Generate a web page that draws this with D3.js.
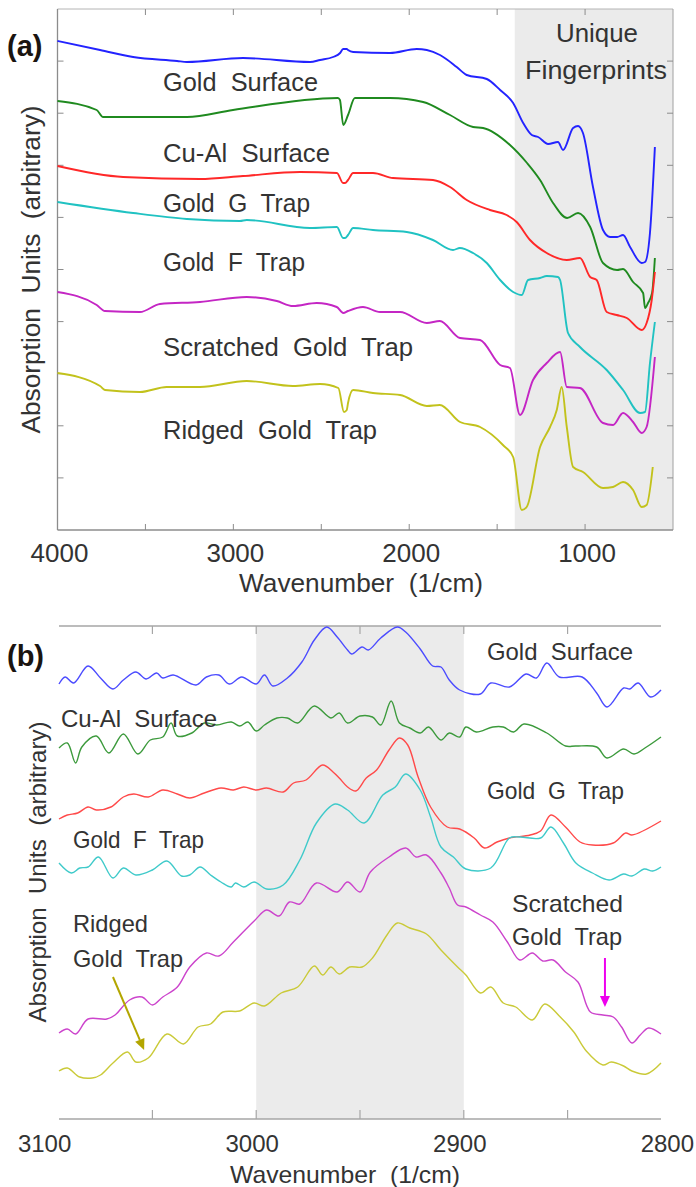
<!DOCTYPE html>
<html><head><meta charset="utf-8">
<script src="https://cdn.jsdelivr.net/npm/d3@7"></script>
<style>
body{margin:0;background:#fff}
svg{display:block}
text{font-family:"Liberation Sans",Arial,Helvetica,sans-serif;fill:#333;white-space:pre}
</style>
</head><body>
<svg id="chart" width="696" height="1187"></svg>
<script>
// ---------- Panel (a) data: [wavenumber (1/cm), absorption (arbitrary, offset)] ----------
const aTickLabels = [4000, 3000, 2000, 1000];
const aTickMarks = [3500, 3000, 2500, 2000, 1500, 1000];
const aShade = [1400, 500];
const aSeriesNames = ["Gold Surface", "Cu-Al Surface", "Gold G Trap", "Gold F Trap", "Scratched Gold Trap", "Ridged Gold Trap"];
const aGoldSurface = [[4000,489],[3758,480],[3570,473],[3320,469],[3264,468],[2945,472],[2564,468],[2507,470],[2433,473],[2393,477],[2376,481],[2355,481],[2348,480],[2319,478],[2109,477],[1957,481],[1900,480],[1825,475],[1730,463],[1673,455],[1559,451],[1483,440],[1409,427],[1352,407],[1303,395],[1267,393],[1210,386],[1154,388],[1125,380],[1068,402],[1040,404],[1012,397],[955,343],[898,300],[858,293],[818,293],[784,295],[744,283],[678,267],[659,268],[631,297],[603,383]];
const aCuAl = [[4000,429],[3777,420],[3741,413],[3570,413],[3264,413],[3002,420],[2405,432],[2394,430],[2375,405],[2348,415],[2309,432],[2109,432],[1921,428],[1768,415],[1637,403],[1580,402],[1427,385],[1330,367],[1256,350],[1182,327],[1102,312],[1040,317],[971,303],[898,267],[818,260],[784,261],[727,248],[670,237],[659,222],[642,227],[619,237],[603,272]];
const aGoldG = [[4000,364],[3627,353],[3190,351],[2945,354],[2621,358],[2411,357],[2376,347],[2365,347],[2348,350],[2319,357],[2206,357],[2092,352],[1865,350],[1768,343],[1673,330],[1541,320],[1446,315],[1389,308],[1313,290],[1218,277],[1104,270],[1029,272],[971,253],[934,250],[877,218],[820,215],[763,212],[678,200],[650,207],[621,230],[603,258]];
const aGoldF = [[4000,328],[3570,317],[3264,311],[2963,309],[2924,310],[2564,302],[2411,303],[2376,292],[2365,292],[2348,295],[2319,302],[2206,300],[2014,298],[1865,290],[1751,280],[1712,282],[1637,277],[1559,267],[1483,250],[1409,238],[1360,235],[1324,250],[1256,252],[1218,254],[1154,253],[1142,250],[1097,197],[1029,183],[877,160],[784,140],[687,117],[659,118],[631,167],[603,208]];
const aScratched = [[4000,238],[3777,225],[3730,219],[3531,218],[3417,226],[3190,228],[2924,233],[2753,229],[2661,224],[2526,227],[2412,223],[2375,217],[2348,219],[2263,223],[2166,218],[2052,218],[1900,207],[1826,209],[1711,192],[1597,190],[1483,165],[1427,162],[1370,115],[1296,150],[1218,167],[1142,178],[1104,143],[1029,142],[898,107],[841,105],[784,117],[727,108],[678,97],[650,103],[603,173]];
const aRidged = [[4000,157],[3758,144],[3730,140],[3531,138],[3379,143],[3190,143],[2924,149],[2661,144],[2507,146],[2403,142],[2371,118],[2355,120],[2348,127],[2319,140],[2206,137],[2052,135],[1900,124],[1826,125],[1711,108],[1597,103],[1467,85],[1409,73],[1360,20],[1332,23],[1256,83],[1199,103],[1161,120],[1133,143],[1104,103],[1068,63],[1012,58],[898,42],[841,43],[784,48],[727,40],[678,23],[650,25],[615,63]];

// ---------- Panel (b) data ----------
const bTickLabels = [3100, 3000, 2900, 2800];
const bTickMarks = [3050, 3000, 2950, 2900, 2850];
const bShade = [3000, 2900];
const bGoldSurface = [[3095,435],[3092,442],[3088,436],[3081,453],[3075,441],[3069,430],[3064,439],[3058,447],[3053,440],[3048,446],[3045,441],[3040,444],[3029,434],[3024,442],[3018,444],[3013,435],[3007,442],[3000,435],[2996,444],[2992,433],[2985,441],[2978,457],[2972,479],[2966,492],[2961,482],[2956,469],[2954,465],[2949,472],[2946,469],[2940,481],[2932,492],[2928,487],[2921,470],[2915,453],[2911,452],[2907,439],[2902,429],[2892,425],[2887,436],[2878,432],[2870,445],[2865,441],[2860,456],[2854,442],[2843,442],[2836,426],[2831,412],[2823,431],[2820,430],[2816,436],[2810,422],[2805,429]];
const bCuAl = [[3095,371],[3091,376],[3087,356],[3084,372],[3077,383],[3071,366],[3064,385],[3057,365],[3051,379],[3045,382],[3041,396],[3038,383],[3031,386],[3025,396],[3019,394],[3012,397],[3008,393],[3004,397],[3000,388],[2996,394],[2990,401],[2985,401],[2980,396],[2972,413],[2964,401],[2960,406],[2956,396],[2950,403],[2944,402],[2940,394],[2935,418],[2931,396],[2926,391],[2921,386],[2917,392],[2911,379],[2907,386],[2902,382],[2899,392],[2894,387],[2886,392],[2881,392],[2876,387],[2871,395],[2860,386],[2851,373],[2846,373],[2836,372],[2831,361],[2823,370],[2818,365],[2812,372],[2805,382]];
const bGoldG = [[3095,300],[3091,304],[3086,306],[3081,312],[3077,309],[3070,312],[3064,322],[3059,325],[3052,322],[3045,329],[3038,325],[3032,321],[3025,326],[3017,331],[3011,329],[3006,332],[3000,329],[2995,331],[2987,327],[2982,336],[2976,339],[2968,354],[2963,347],[2960,341],[2956,332],[2952,328],[2947,341],[2942,349],[2936,369],[2931,381],[2927,374],[2922,342],[2916,312],[2908,292],[2902,290],[2895,281],[2890,271],[2884,277],[2878,281],[2868,284],[2863,288],[2858,304],[2851,292],[2844,277],[2838,274],[2828,276],[2822,286],[2819,284],[2805,298]];
const bGoldF = [[3095,256],[3089,246],[3085,251],[3081,252],[3076,262],[3069,241],[3064,251],[3058,244],[3050,249],[3043,258],[3036,243],[3032,244],[3027,252],[3022,244],[3017,237],[3012,232],[3010,236],[3006,232],[3001,237],[2995,230],[2987,234],[2979,259],[2971,296],[2962,315],[2956,309],[2948,296],[2939,324],[2933,332],[2928,345],[2921,329],[2916,302],[2911,272],[2905,262],[2899,250],[2887,251],[2878,281],[2873,282],[2863,281],[2858,292],[2852,276],[2846,256],[2838,246],[2830,239],[2823,245],[2819,243],[2813,250],[2809,248],[2805,252]];
const bScratched = [[3095,86],[3091,90],[3087,85],[3081,100],[3072,100],[3068,104],[3061,119],[3055,122],[3050,114],[3045,122],[3038,132],[3032,152],[3024,166],[3018,163],[3011,177],[3001,198],[2995,209],[2989,203],[2984,217],[2979,215],[2971,236],[2961,227],[2956,237],[2950,227],[2945,247],[2936,262],[2928,271],[2923,262],[2918,264],[2911,246],[2907,231],[2903,214],[2899,212],[2892,204],[2886,197],[2879,177],[2873,159],[2867,166],[2862,158],[2857,159],[2851,147],[2845,137],[2839,107],[2833,104],[2828,102],[2824,92],[2819,76],[2815,84],[2811,91],[2805,85]];
const bRidged = [[3095,48],[3091,51],[3085,42],[3079,41],[3075,44],[3069,56],[3062,67],[3058,57],[3052,61],[3043,85],[3035,75],[3028,92],[3022,95],[3016,107],[3008,108],[3001,116],[2996,113],[2988,126],[2980,132],[2972,153],[2968,144],[2964,152],[2960,145],[2955,152],[2949,152],[2944,161],[2937,184],[2932,196],[2926,191],[2918,185],[2911,169],[2903,152],[2899,144],[2892,126],[2887,132],[2881,116],[2875,112],[2867,99],[2861,115],[2854,103],[2847,87],[2841,68],[2833,54],[2829,57],[2823,53],[2819,48],[2812,45],[2805,56]];
// annotation arrows in panel (b): [from, to] in data coords
const bArrowRidged = [[3069,142],[3054,69]];
const bArrowScratched = [[2832,161],[2832,112]];

const colorsA = ["#2323ff","#1f8a1f","#ff2828","#20c2c2","#c426c4","#c2c21c"];
const colorsB = ["#4b4bff","#3c9a3c","#ff4a4a","#3fcaca","#cc44cc","#caca38"];

const svg = d3.select("#chart");

// ================= Panel (a) =================
const ax = d3.scaleLinear().domain([4000, 500]).range([57.5, 673]);
const ay = d3.scaleLinear().domain([0, 521]).range([530, 9]);

const gA = svg.append("g");
gA.append("rect").attr("x", ax(aShade[0])).attr("y", ay(521))
  .attr("width", ax(aShade[1]) - ax(aShade[0])).attr("height", ay(0) - ay(521))
  .attr("fill", "#ebebeb");

// frame
gA.append("line").attr("x1", ax(4000)).attr("x2", ax(500)).attr("y1", ay(521)).attr("y2", ay(521)).attr("stroke", "#b4b4b4");
gA.append("line").attr("x1", ax(500)).attr("x2", ax(500)).attr("y1", ay(521)).attr("y2", ay(0)).attr("stroke", "#a0a0a0");
gA.append("line").attr("x1", ax(4000)).attr("x2", ax(500)).attr("y1", ay(0)).attr("y2", ay(0)).attr("stroke", "#8c8c8c").attr("stroke-width", 1.3);
gA.append("line").attr("x1", ax(4000)).attr("x2", ax(4000)).attr("y1", ay(521)).attr("y2", ay(0)).attr("stroke", "#8c8c8c").attr("stroke-width", 1.3);

// x ticks (inward, top and bottom)
aTickMarks.forEach(v => {
  gA.append("line").attr("x1", ax(v)).attr("x2", ax(v)).attr("y1", ay(0)).attr("y2", ay(0) - 6).attr("stroke", "#8c8c8c");
  gA.append("line").attr("x1", ax(v)).attr("x2", ax(v)).attr("y1", ay(521)).attr("y2", ay(521) + 6).attr("stroke", "#8c8c8c");
});
// y ticks
d3.range(1, 10).forEach(k => {
  const yv = ay(k * 52.1);
  gA.append("line").attr("x1", ax(4000)).attr("x2", ax(4000) + 6).attr("y1", yv).attr("y2", yv).attr("stroke", "#8c8c8c");
  gA.append("line").attr("x1", ax(500)).attr("x2", ax(500) - 6).attr("y1", yv).attr("y2", yv).attr("stroke", "#8c8c8c");
});
aTickLabels.forEach(v => {
  gA.append("text").attr("x", ax(v) + 2).attr("y", 562).attr("text-anchor", "middle")
    .attr("font-size", 26).text(v);
});
gA.append("text").attr("x", 361).attr("y", 592).attr("text-anchor", "middle").attr("font-size", 26)
  .attr("textLength", 244).attr("lengthAdjust", "spacingAndGlyphs").text("Wavenumber  (1/cm)");
gA.append("text").attr("transform", "translate(40,269.5) rotate(-90)").attr("text-anchor", "middle")
  .attr("font-size", 25).attr("textLength", 328).attr("lengthAdjust", "spacingAndGlyphs")
  .text("Absorption  Units  (arbitrary)");

const lineA = d3.line().x(d => ax(d[0])).y(d => ay(d[1])).curve(d3.curveMonotoneX);
[aGoldSurface, aCuAl, aGoldG, aGoldF, aScratched, aRidged].forEach((s, i) => {
  gA.append("path").datum(s).attr("d", lineA).attr("fill", "none")
    .attr("stroke", colorsA[i]).attr("stroke-width", 1.9).attr("stroke-linejoin", "round");
});

const aLabelPos = [[163, 91, 155], [163, 162, 167], [163, 212, 147], [163, 271, 142], [163, 356, 250], [163, 439, 214]];
aSeriesNames.forEach((n, i) => {
  const p = aLabelPos[i];
  gA.append("text").attr("x", p[0]).attr("y", p[1]).attr("font-size", 25)
    .attr("textLength", p[2]).attr("lengthAdjust", "spacingAndGlyphs").text(n.replace(/ /g, "  "));
});
gA.append("text").attr("x", 597).attr("y", 42).attr("text-anchor", "middle").attr("font-size", 25)
  .attr("textLength", 82).attr("lengthAdjust", "spacingAndGlyphs").text("Unique");
gA.append("text").attr("x", 596).attr("y", 79).attr("text-anchor", "middle").attr("font-size", 25)
  .attr("textLength", 142).attr("lengthAdjust", "spacingAndGlyphs").text("Fingerprints");
svg.append("text").attr("x", 7).attr("y", 56).attr("font-size", 29).attr("font-weight", "bold")
  .style("fill", "#1a1410").text("(a)");

// ================= Panel (b) =================
const bx = d3.scaleLinear().domain([3095, 2805]).range([59, 661]);
const by = d3.scaleLinear().domain([0, 493]).range([1119, 626]);
const gB = svg.append("g");
gB.append("rect").attr("x", bx(bShade[0])).attr("y", by(493))
  .attr("width", bx(bShade[1]) - bx(bShade[0])).attr("height", by(0) - by(493)).attr("fill", "#ebebeb");
gB.append("line").attr("x1", bx(3095)).attr("x2", bx(2805)).attr("y1", by(493)).attr("y2", by(493)).attr("stroke", "#a6a6a6").attr("stroke-width", 1.4);
gB.append("line").attr("x1", bx(3095)).attr("x2", bx(2805)).attr("y1", by(0)).attr("y2", by(0)).attr("stroke", "#a6a6a6").attr("stroke-width", 1.4);
bTickMarks.forEach(v => {
  gB.append("line").attr("x1", bx(v)).attr("x2", bx(v)).attr("y1", by(0)).attr("y2", by(0) - 9).attr("stroke", "#a6a6a6").attr("stroke-width", 1.2);
  gB.append("line").attr("x1", bx(v)).attr("x2", bx(v)).attr("y1", by(493)).attr("y2", by(493) + 8).attr("stroke", "#a6a6a6").attr("stroke-width", 1.2);
});
bTickLabels.forEach(v => {
  gB.append("text").attr("x", bx(v) - 4).attr("y", 1152).attr("text-anchor", "middle")
    .attr("font-size", 24).text(v);
});
gB.append("text").attr("x", 345).attr("y", 1183).attr("text-anchor", "middle").attr("font-size", 24)
  .attr("textLength", 230).attr("lengthAdjust", "spacingAndGlyphs").text("Wavenumber  (1/cm)");
gB.append("text").attr("transform", "translate(46,872) rotate(-90)").attr("text-anchor", "middle")
  .attr("font-size", 24).attr("textLength", 301).attr("lengthAdjust", "spacingAndGlyphs")
  .text("Absorption  Units  (arbitrary)");

const lineB = d3.line().x(d => bx(d[0])).y(d => by(d[1])).curve(d3.curveCatmullRom.alpha(0.5));
[bGoldSurface, bCuAl, bGoldG, bGoldF, bScratched, bRidged].forEach((s, i) => {
  gB.append("path").datum(s).attr("d", lineB).attr("fill", "none")
    .attr("stroke", colorsB[i]).attr("stroke-width", 1.4).attr("stroke-linejoin", "round");
});

const bLabels = [
  ["Gold  Surface", 487, 660, 146], ["Cu-Al  Surface", 61, 727, 156], ["Gold  G  Trap", 487, 799, 137],
  ["Gold  F  Trap", 73, 848, 131], ["Ridged", 73, 932, 75], ["Gold  Trap", 73, 967, 110],
  ["Scratched", 512, 912, 111], ["Gold  Trap", 512, 945, 110]
];
bLabels.forEach(l => {
  gB.append("text").attr("x", l[1]).attr("y", l[2]).attr("font-size", 24)
    .attr("textLength", l[3]).attr("lengthAdjust", "spacingAndGlyphs").text(l[0]);
});
svg.append("text").attr("x", 7).attr("y", 666).attr("font-size", 29).attr("font-weight", "bold")
  .style("fill", "#1a1410").text("(b)");

// arrows
function arrow(pts, color) {
  const x1 = bx(pts[0][0]), y1 = by(pts[0][1]), x2 = bx(pts[1][0]), y2 = by(pts[1][1]);
  const ang = Math.atan2(y2 - y1, x2 - x1);
  const hl = 11, hw = 5;
  const bxp = x2 - hl * Math.cos(ang), byp = y2 - hl * Math.sin(ang);
  gB.append("line").attr("x1", x1).attr("y1", y1).attr("x2", bxp).attr("y2", byp)
    .attr("stroke", color).attr("stroke-width", 2);
  const px = -Math.sin(ang) * hw, py = Math.cos(ang) * hw;
  gB.append("path").attr("d", `M${x2},${y2}L${bxp + px},${byp + py}L${bxp - px},${byp - py}Z`).attr("fill", color);
}
arrow(bArrowRidged, "#b3a600");
arrow(bArrowScratched, "#ee00ee");
</script>
</body></html>
